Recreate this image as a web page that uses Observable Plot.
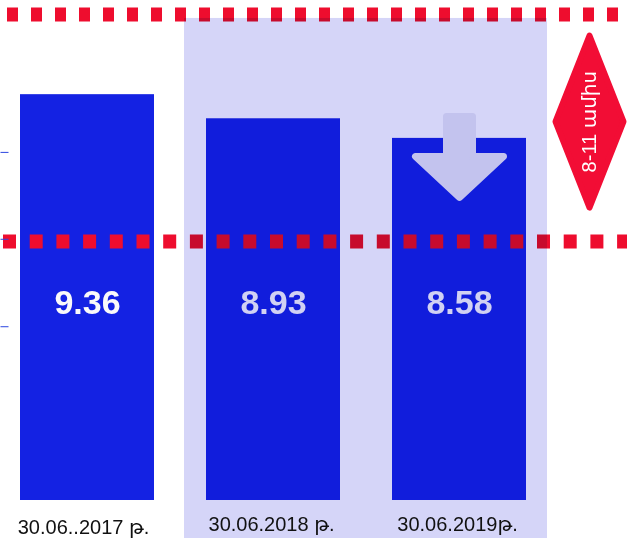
<!DOCTYPE html>
<html>
<head>
<meta charset="utf-8">
<script src="https://cdn.jsdelivr.net/npm/d3@7"></script>
<script src="https://cdn.jsdelivr.net/npm/@observablehq/plot@0.6"></script>
<style>
  html, body { margin: 0; padding: 0; background: #ffffff; }
  #chart svg { display: block; }
</style>
</head>
<body>
<div id="chart"></div>
<script>
// ---- data ----
const categories = ["30.06..2017 թ.", "30.06.2018 թ.", "30.06.2019թ."];
const values = [9.36, 8.93, 8.58];
const valueLabels = ["9.36", "8.93", "8.58"];
const highlighted = ["30.06.2018 թ.", "30.06.2019թ."];
const termLabel = "8-11 ամիս";
const tickValues = [8.33, 6.78, 5.22];
const upperLevel = 10.79;
const middleLevel = 6.74;

// ---- scale setup ----
const yMin = 2.12, yMax = 11.04;
const bandBottom = 1.44, bandTop = 10.72;
const labelLevel = 1.69, valueLevel = 5.65, termLevel = 8.88;

const rows = categories.map((c, i) => ({cat: c, v: values[i], label: valueLabels[i]}));

const arrowSymbol = {
  draw(ctx) {
    ctx.moveTo(-13, -22); ctx.lineTo(13, -22); ctx.lineTo(13, 18);
    ctx.lineTo(44, 18); ctx.lineTo(0, 59); ctx.lineTo(-44, 18);
    ctx.lineTo(-13, 18); ctx.closePath();
  }
};
const diamondSymbol = {
  draw(ctx) {
    ctx.moveTo(0, -86); ctx.lineTo(34, 0); ctx.lineTo(0, 86); ctx.lineTo(-34, 0); ctx.closePath();
  }
};
const tickSymbol = {
  draw(ctx) { ctx.moveTo(-4, 0); ctx.lineTo(4, 0); }
};

const red = "#ee0d2e";
const font = "Liberation Sans, Arial, DejaVu Sans, sans-serif";

const chart = Plot.plot({
  width: 627,
  height: 538,
  marginTop: 0,
  marginBottom: 38,
  marginLeft: 20,
  marginRight: 101,
  x: {domain: categories, paddingInner: 0.28, paddingOuter: 0, axis: null},
  y: {domain: [yMin, yMax], axis: null},
  style: {fontFamily: font, background: "transparent"},
  marks: [
    Plot.barY(rows, {x: "cat", y1: () => yMin, y2: "v", fill: "#1422e3"}),
    Plot.ruleY([upperLevel], {stroke: red, strokeWidth: 14, strokeDasharray: "11 13", insetLeft: -13, insetRight: -101}),
    Plot.ruleY([middleLevel], {stroke: red, strokeWidth: 14, strokeDasharray: "13 13.7", insetLeft: -17, insetRight: -101}),
    Plot.text(rows, {x: "cat", y: () => valueLevel, text: "label", fill: "#fafafa",
      fontSize: 34, fontWeight: "bold", fontFamily: font, letterSpacing: -1.5}),
    Plot.dot(tickValues, {x: () => categories[0], y: d => d, dx: -83, symbol: tickSymbol,
      stroke: "#2c46e0", strokeWidth: 1, fill: "none"}),
    // highlighted period (multiply overlay), one rectangle spanning both bands
    Plot.barY([highlighted[0]], {x: d => d, y1: () => bandBottom, y2: () => bandTop,
      fill: "#d5d5f8", insetLeft: -22, insetRight: -207, mixBlendMode: "multiply"}),
    Plot.dot([rows[2]], {x: "cat", y: "v", symbol: arrowSymbol, fill: "#c3c3ee",
      stroke: "#c3c3ee", strokeWidth: 7, strokeLinejoin: "round"}),
    Plot.dot([termLabel], {x: () => categories[2], y: () => termLevel, dx: 130, symbol: diamondSymbol,
      fill: "#f20d35", stroke: "#f20d35", strokeWidth: 6, strokeLinejoin: "round"}),
    Plot.text([termLabel], {x: () => categories[2], y: () => termLevel, dx: 130, text: d => d,
      rotate: -90, fill: "#ffffff", fontSize: 20, fontFamily: font}),
    Plot.text(categories.slice(0, 1), {x: d => d, y: () => labelLevel, text: d => d, fill: "#111111",
      fontSize: 20, fontFamily: font, dx: -4, dy: 3}),
    Plot.text(categories.slice(1), {x: d => d, y: () => labelLevel, text: d => d, fill: "#111111",
      fontSize: 20, fontFamily: font, dx: -2})
  ]
});
document.getElementById("chart").appendChild(chart);
</script>
</body>
</html>
